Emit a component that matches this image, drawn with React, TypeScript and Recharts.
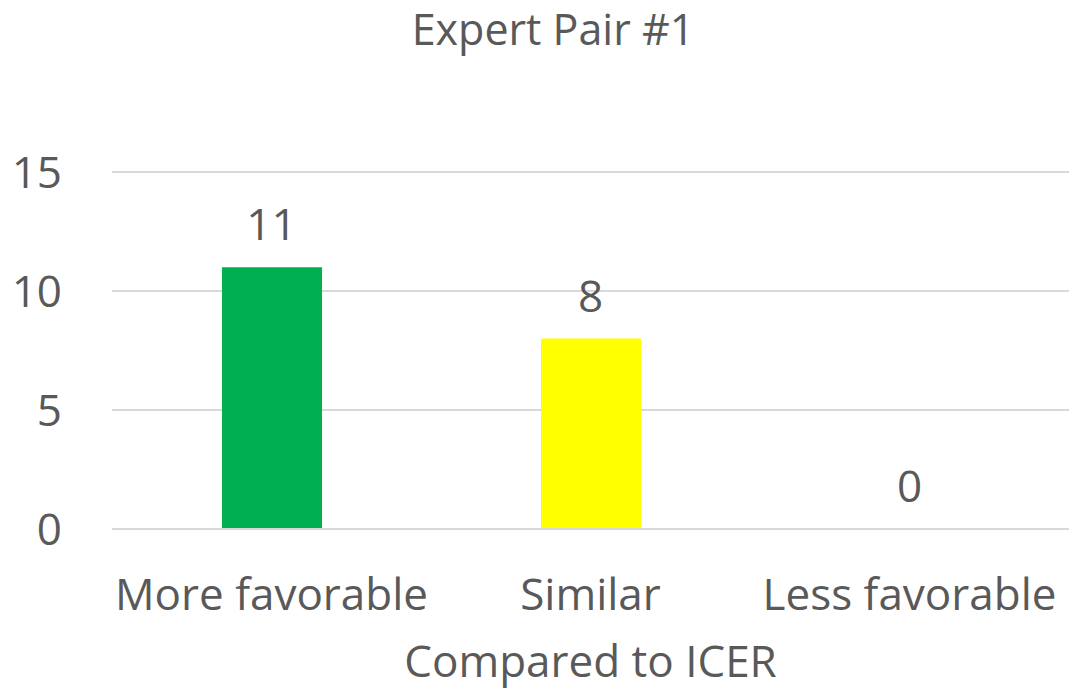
import React from 'react';
import { ComposedChart, Bar, Line, XAxis, YAxis, CartesianGrid, LabelList, Cell } from 'recharts';

const categories = ['More favorable', 'Similar', 'Less favorable'];
const counts = [11, 8, 0];
const colors = ['#00B050', '#FFFF00', '#A5A5A5'];
const yTicks = [0, 5, 10, 15];
const title = 'Expert Pair #1';
const xTitle = 'Compared to ICER';

const data = categories.map((c, i) => ({ name: c, value: counts[i] }));

const FONT = '"Open Sans", "Noto Sans", sans-serif';
const TXT = '#595959';
const FS = 44;

export default function App() {
  return (
    <div style={{ position: 'absolute', left: 0, top: 0, width: 1069, height: 691, background: '#fff', fontFamily: FONT, overflow: 'hidden' }}>
      <div style={{ position: 'absolute', left: 553, top: 4, transform: 'translateX(-50%)', fontSize: 43, lineHeight: '50px', color: TXT, whiteSpace: 'nowrap' }}>
        {title}
      </div>
      <ComposedChart width={1069} height={691} data={data} margin={{ top: 172, right: 0, left: 0, bottom: 0 }} barSize={100}>
        <CartesianGrid vertical={false} stroke="#D9D9D9" strokeWidth={2} />
        <YAxis
          domain={[0, 15]}
          ticks={yTicks}
          width={112}
          axisLine={false}
          tickLine={false}
          tickSize={0}
          tickMargin={50}
          tick={{ fill: TXT, fontSize: FS, fontFamily: FONT }}
        />
        <XAxis
          dataKey="name"
          height={162}
          axisLine={{ stroke: '#D9D9D9', strokeWidth: 2 }}
          tickLine={false}
          tickSize={0}
          tickMargin={50}
          interval={0}
          tick={{ fill: TXT, fontSize: FS, fontFamily: FONT }}
          label={{ value: xTitle, position: 'insideBottom', offset: 14, fill: TXT, fontSize: FS, fontFamily: FONT }}
        />
        <Bar dataKey="value" isAnimationActive={false}>
          {data.map((d, i) => (
            <Cell key={i} fill={colors[i]} />
          ))}
        </Bar>
        <Line dataKey="value" stroke="none" dot={false} activeDot={false} isAnimationActive={false}>
          <LabelList dataKey="value" position="top" offset={27} fill={TXT} fontSize={FS} fontFamily={FONT} />
        </Line>
      </ComposedChart>
    </div>
  );
}
